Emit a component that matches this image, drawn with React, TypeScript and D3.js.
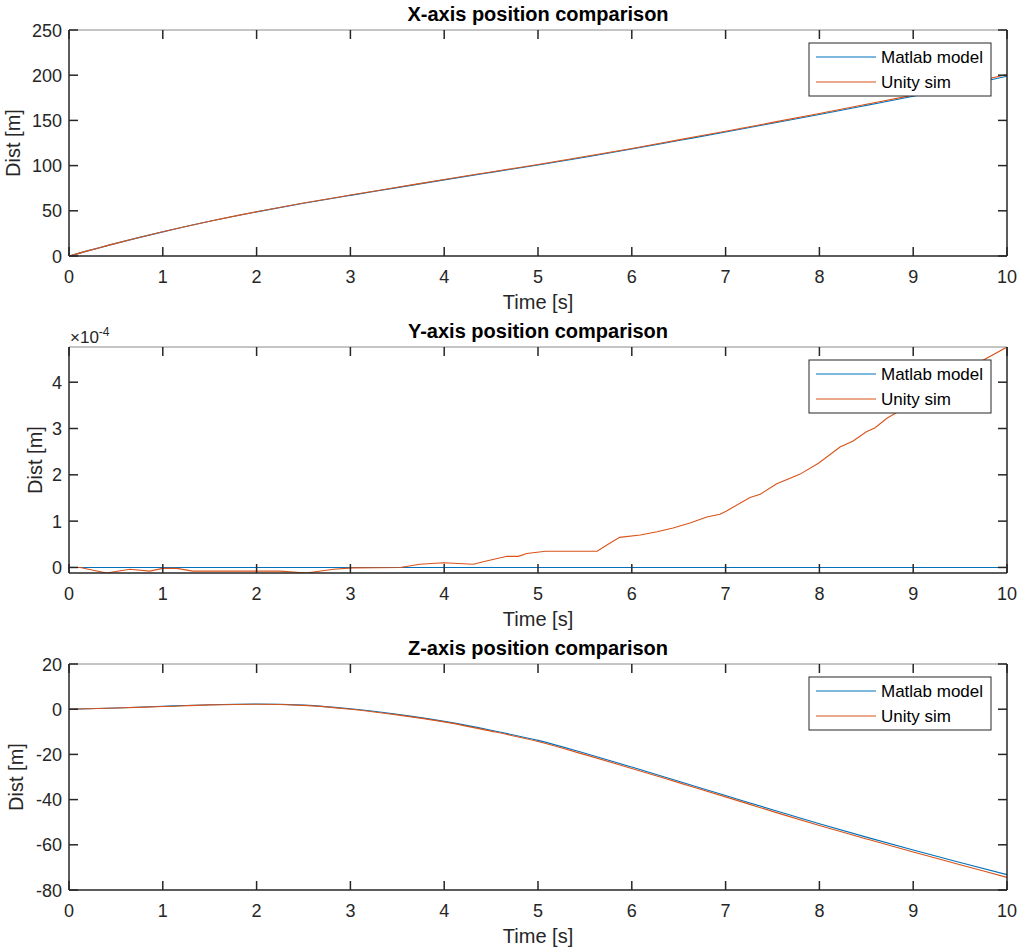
import React from 'react';
import * as d3 from 'd3';

// ---------- data ----------
const timeTicks = [0, 1, 2, 3, 4, 5, 6, 7, 8, 9, 10];

const xzTime = [0, 0.5, 1, 1.5, 2, 2.5, 3, 3.5, 4, 4.5, 5, 5.5, 6, 6.5, 7, 7.5, 8, 8.5, 9, 9.5, 10];
const xPosMatlab = [0, 14, 26.7, 38.4, 48.8, 58.3, 67.1, 75.6, 84.2, 92.5, 100.7, 109.3, 118.3, 127.7, 137.1, 146.8, 156.6, 166.6, 176.7, 187.5, 198.9];
const xPosUnity = [0, 14, 26.8, 38.5, 49, 58.6, 67.4, 76, 84.7, 93, 101.3, 110, 119, 128.5, 138, 147.8, 157.7, 167.8, 178, 189, 200.7];

const yMatlabTime = [0, 10];
const yPosMatlabE4 = [0, 0];
const yUnityTime = [0, 0.12, 0.4, 0.65, 0.86, 1.0, 1.15, 1.32, 2.0, 2.25, 2.53, 2.82, 3.03, 3.53, 3.74, 3.99, 4.31, 4.45, 4.67, 4.79, 4.88, 5.08, 5.63, 5.73, 5.87, 6.09, 6.27, 6.44, 6.62, 6.8, 6.94, 7.01, 7.26, 7.37, 7.54, 7.79, 7.99, 8.22, 8.36, 8.5, 8.59, 8.72, 8.85, 9.0, 9.2, 9.4, 9.6, 9.73, 10];
const yPosUnityE4 = [0, 0, -0.12, -0.04, -0.08, -0.02, -0.02, -0.08, -0.08, -0.08, -0.12, -0.04, -0.01, 0, 0.07, 0.1, 0.07, 0.14, 0.24, 0.24, 0.3, 0.35, 0.35, 0.48, 0.65, 0.7, 0.77, 0.85, 0.96, 1.09, 1.15, 1.22, 1.51, 1.58, 1.8, 2.01, 2.25, 2.6, 2.73, 2.93, 3.01, 3.22, 3.38, 3.55, 3.8, 4.02, 4.3, 4.46, 4.76];

const zPosMatlab = [0, 0.5, 1.3, 2.0, 2.3, 1.8, 0.2, -2.3, -5.4, -9.3, -13.8, -19.5, -25.6, -31.9, -38.2, -44.5, -50.7, -56.6, -62.3, -67.8, -73.2];
const zPosUnity = [0, 0.5, 1.2, 1.9, 2.2, 1.7, 0.0, -2.5, -5.6, -9.7, -14.3, -20.1, -26.2, -32.5, -38.8, -45.2, -51.5, -57.4, -63.2, -68.8, -74.4];

const xTicks = [0, 50, 100, 150, 200, 250];
const yTicks = [0, 1, 2, 3, 4];
const zTicks = [-80, -60, -40, -20, 0, 20];

const seriesNames = ['Matlab model', 'Unity sim'];
const seriesColors = ['#0072BD', '#D95319'];

// ---------- layout ----------
const W = 1017;
const H = 952;
const AX_L = 69;
const AX_R = 1007;
const AX_H = 226;
const FONT = '"Liberation Sans", Arial, Helvetica, sans-serif';
const AXC = '#262626';

type Series = { t: number[]; v: number[]; color: string; name: string };

function Panel(props: {
  top: number;
  title: string;
  domain: [number, number];
  ticks: number[];
  series: Series[];
  ylabelX: number;
  curve: d3.CurveFactory;
  exponent?: string;
  id: string;
}) {
  const { top, title, domain, ticks, series, ylabelX, curve, exponent, id } = props;
  const bottom = top + AX_H;
  const x = d3.scaleLinear().domain([0, 10]).range([AX_L, AX_R]);
  const y = d3.scaleLinear().domain(domain).range([bottom, top]);
  const tickLen = 9;

  const lines = series.map((s) => {
    const pts: [number, number][] = s.t.map((t, i) => [t, s.v[i]]);
    const gen = d3
      .line<[number, number]>()
      .x((d) => x(d[0]))
      .y((d) => y(d[1]))
      .curve(curve);
    return { d: gen(pts) || '', color: s.color };
  });

  const legX = AX_R - 16 - 182;
  const legY = top + 13;

  return (
    <g>
      <defs>
        <clipPath id={id}>
          <rect x={AX_L} y={top} width={AX_R - AX_L} height={AX_H} />
        </clipPath>
      </defs>
      <g clipPath={`url(#${id})`}>
        {lines.map((l, i) => (
          <path key={i} d={l.d} fill="none" stroke={l.color} strokeWidth={1.1} />
        ))}
      </g>
      {/* box */}
      <line x1={AX_L} x2={AX_R} y1={top} y2={top} stroke="#8a8a8a" strokeWidth={1} />
      <line x1={AX_L} x2={AX_R} y1={bottom} y2={bottom} stroke={AXC} strokeWidth={1.5} />
      <line x1={AX_L} x2={AX_L} y1={top} y2={bottom} stroke={AXC} strokeWidth={1.5} />
      <line x1={AX_R} x2={AX_R} y1={top} y2={bottom} stroke={AXC} strokeWidth={1.5} />
      {/* x ticks */}
      {timeTicks.map((t) => (
        <g key={'xt' + t}>
          <line x1={x(t)} x2={x(t)} y1={bottom} y2={bottom - tickLen} stroke={AXC} strokeWidth={1.5} />
          <line x1={x(t)} x2={x(t)} y1={top} y2={top + tickLen} stroke={AXC} strokeWidth={1.5} />
          <text x={x(t)} y={bottom + 27} textAnchor="middle" fontSize={18} fill={AXC} fontFamily={FONT}>
            {t}
          </text>
        </g>
      ))}
      {/* y ticks */}
      {ticks.map((v) => (
        <g key={'yt' + v}>
          <line x1={AX_L} x2={AX_L + tickLen} y1={y(v)} y2={y(v)} stroke={AXC} strokeWidth={1.5} />
          <line x1={AX_R} x2={AX_R - tickLen} y1={y(v)} y2={y(v)} stroke={AXC} strokeWidth={1.5} />
          <text x={AX_L - 7} y={y(v) + 6.5} textAnchor="end" fontSize={18} fill={AXC} fontFamily={FONT}>
            {v}
          </text>
        </g>
      ))}
      {exponent && (
        <text x={AX_L + 1} y={top - 4} fontSize={17} fill={AXC} fontFamily={FONT}>
          {'\u00d710'}
          <tspan fontSize={12} dy={-7}>{exponent}</tspan>
        </text>
      )}
      {/* labels */}
      <text x={(AX_L + AX_R) / 2} y={top - 9} textAnchor="middle" fontSize={20} fontWeight="bold" fill="#000" fontFamily={FONT}>
        {title}
      </text>
      <text x={(AX_L + AX_R) / 2} y={bottom + 53} textAnchor="middle" fontSize={20} fill={AXC} fontFamily={FONT}>
        Time [s]
      </text>
      <text
        transform={`translate(${ylabelX},${(top + bottom) / 2}) rotate(-90)`}
        textAnchor="middle"
        fontSize={20}
        fill={AXC}
        fontFamily={FONT}
      >
        Dist [m]
      </text>
      {/* legend */}
      <rect x={legX} y={legY} width={182} height={53} fill="#fff" stroke={AXC} strokeWidth={1} />
      {series.map((s, i) => (
        <g key={'lg' + i}>
          <line x1={legX + 7} x2={legX + 67} y1={legY + 14 + i * 25} y2={legY + 14 + i * 25} stroke={s.color} strokeWidth={1.1} />
          <text x={legX + 72} y={legY + 20 + i * 25} fontSize={17} fill="#000" fontFamily={FONT}>
            {s.name}
          </text>
        </g>
      ))}
    </g>
  );
}

export default function App() {
  return (
    <svg
      width={W}
      height={H}
      viewBox={`0 0 ${W} ${H}`}
      style={{ position: 'absolute', left: 0, top: 0, background: '#fff' }}
    >
      <rect x={0} y={0} width={W} height={H} fill="#fff" />
      <Panel
        id="c1"
        top={30}
        title="X-axis position comparison"
        domain={[0, 250]}
        ticks={xTicks}
        ylabelX={20}
        curve={d3.curveMonotoneX}
        series={[
          { t: xzTime, v: xPosMatlab, color: seriesColors[0], name: seriesNames[0] },
          { t: xzTime, v: xPosUnity, color: seriesColors[1], name: seriesNames[1] },
        ]}
      />
      <Panel
        id="c2"
        top={347}
        title="Y-axis position comparison"
        domain={[-0.12, 4.76]}
        ticks={yTicks}
        ylabelX={42}
        curve={d3.curveLinear}
        exponent="-4"
        series={[
          { t: yMatlabTime, v: yPosMatlabE4, color: seriesColors[0], name: seriesNames[0] },
          { t: yUnityTime, v: yPosUnityE4, color: seriesColors[1], name: seriesNames[1] },
        ]}
      />
      <Panel
        id="c3"
        top={664}
        title="Z-axis position comparison"
        domain={[-80, 20]}
        ticks={zTicks}
        ylabelX={23}
        curve={d3.curveMonotoneX}
        series={[
          { t: xzTime, v: zPosMatlab, color: seriesColors[0], name: seriesNames[0] },
          { t: xzTime, v: zPosUnity, color: seriesColors[1], name: seriesNames[1] },
        ]}
      />
    </svg>
  );
}
